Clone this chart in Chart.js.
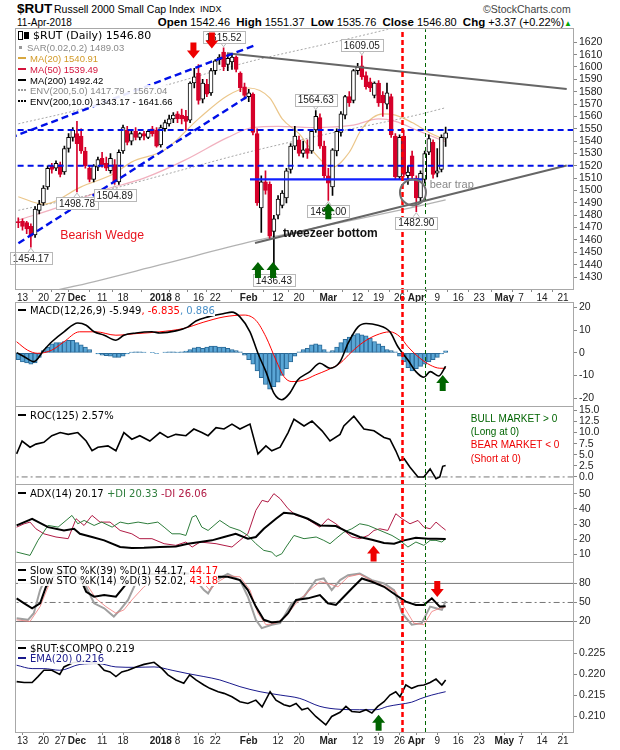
<!DOCTYPE html>
<html>
<head>
<meta charset="utf-8">
<script src="https://cdn.jsdelivr.net/npm/chart.js@4.4.1/dist/chart.umd.min.js"></script>
<style>
  body { margin: 0; background: #fff; }
  #wrap { position: relative; width: 620px; height: 750px; overflow: hidden; font-family: "Liberation Sans", Arial, sans-serif; color: #000; }
  canvas { position: absolute; left: 0; }
  .t { position: absolute; white-space: nowrap; line-height: 1; }
  .lg { position: absolute; left: 18px; white-space: nowrap; font-family: "DejaVu Sans", sans-serif; font-size: 10px; line-height: 11px; z-index: 5; }
  .lg span { background: rgba(255,255,255,0.9); }
  .sym { display: inline-block; width: 8px; height: 0; border-top: 2.5px solid #000; vertical-align: middle; margin: 0 4px 2px 0; }
  .ml { font-family: "Liberation Sans", Arial, sans-serif; font-size: 9.5px; }
</style>
</head>
<body>
<div id="wrap">
  <div class="t" style="left:17px;top:2px;font-size:13.5px;font-weight:bold">$RUT</div>
  <div class="t" style="left:54px;top:4px;font-size:10.5px">Russell 2000 Small Cap Index</div>
  <div class="t" style="left:200px;top:5px;font-size:9px">INDX</div>
  <div class="t" style="left:483px;top:4px;font-size:10.5px;color:#444">&copy;StockCharts.com</div>
  <div class="t" style="left:17px;top:18px;font-size:10px">11-Apr-2018</div>
  <div class="t" style="right:48px;top:17px;font-size:11px"><b style="font-size:11.5px">Open</b> 1542.46 &nbsp;<b style="font-size:11.5px">High</b> 1551.37 &nbsp;<b style="font-size:11.5px">Low</b> 1535.76 &nbsp;<b style="font-size:11.5px">Close</b> 1546.80 &nbsp;<b style="font-size:11.5px">Chg</b> +3.37 (+0.22%)<span style="color:#0a0;font-size:8px">&#9650;</span></div>

  <!-- main legend -->
  <div class="lg" style="top:30px;font-size:11px"><span><span style="display:inline-block;width:3px;height:7px;border:1px solid #000;margin-right:1px;vertical-align:-1px"></span><span style="display:inline-block;width:3px;height:5px;background:#000;border:1px solid #000;margin-right:4px;vertical-align:0"></span>$RUT (Daily) 1546.80</span></div>
  <div class="lg ml" style="top:42px;color:#8a8a8a"><span><span style="display:inline-block;width:3px;height:3px;background:#999;margin:0 5px 2px 1px;vertical-align:middle"></span>SAR(0.02,0.2) 1489.03</span></div>
  <div class="lg ml" style="top:53px;color:#d29a28"><span><span class="sym" style="border-color:#d8a840"></span>MA(20) 1540.91</span></div>
  <div class="lg ml" style="top:64px;color:#d4143c"><span><span class="sym" style="border-color:#d4143c"></span>MA(50) 1539.49</span></div>
  <div class="lg ml" style="top:75px"><span><span class="sym"></span>MA(200) 1492.42</span></div>
  <div class="lg ml" style="top:85px;color:#888"><span><span class="sym" style="border-top:2px dotted #999"></span>ENV(200,5.0) 1417.79 - 1567.04</span></div>
  <div class="lg ml" style="top:96px"><span><span class="sym" style="border-top:2px dotted #000"></span>ENV(200,10.0) 1343.17 - 1641.66</span></div>

  <!-- panel legends -->
  <div class="lg" style="top:305px"><span><span class="sym"></span>MACD(12,26,9) -5.949<span style="color:#f00">, -6.835</span><span style="color:#4a90c8">, 0.886</span></span></div>
  <div class="lg" style="top:410px"><span><span class="sym"></span>ROC(125) 2.57%</span></div>
  <div class="lg" style="top:488px"><span><span class="sym"></span>ADX(14) 20.17 <span style="color:#2e7d3c">+DI 20.33</span> <span style="color:#b01a44">-DI 26.06</span></span></div>
  <div class="lg" style="top:565px"><span><span class="sym"></span>Slow STO %K(39) %D(1) 44.17, <span style="color:#f00">44.17</span></span></div>
  <div class="lg" style="top:575px"><span><span class="sym"></span>Slow STO %K(14) %D(3) 52.02, <span style="color:#f00">43.18</span></span></div>
  <div class="lg" style="top:643px"><span><span class="sym"></span>$RUT:$COMPQ 0.219</span></div>
  <div class="lg" style="top:653px;color:#1a1a8c"><span><span class="sym" style="border-color:#1a1a8c"></span>EMA(20) 0.216</span></div>

  <canvas id="cMain"></canvas>
  <canvas id="cMacd"></canvas>
  <canvas id="cRoc"></canvas>
  <canvas id="cAdx"></canvas>
  <canvas id="cSto"></canvas>
  <canvas id="cRatio"></canvas>
</div>
<script>
// ---------- calendar ----------
const holidays = ['2017-11-23', '2017-12-25', '2018-01-01', '2018-01-15', '2018-02-19', '2018-03-30', '2018-05-28'];
function tradingDays(from, to) {
  const out = [];
  const d = new Date(from + 'T00:00:00Z'), end = new Date(to + 'T00:00:00Z');
  while (d <= end) {
    const s = d.toISOString().slice(0, 10), w = d.getUTCDay();
    if (w !== 0 && w !== 6 && !holidays.includes(s)) out.push(s);
    d.setUTCDate(d.getUTCDate() + 1);
  }
  return out;
}
const days = tradingDays('2017-11-10', '2018-05-24');

const tickDates = ['2017-11-13', '2017-11-20', '2017-11-27', '2017-12-01', '2017-12-11', '2017-12-18', '2018-01-02', '2018-01-08', '2018-01-16', '2018-01-22', '2018-02-01', '2018-02-12', '2018-02-20', '2018-03-01', '2018-03-12', '2018-03-19', '2018-03-26', '2018-04-02', '2018-04-09', '2018-04-16', '2018-04-23', '2018-05-01', '2018-05-07', '2018-05-14', '2018-05-21'];
const tickText = ['13', '20', '27', 'Dec', '11', '18', '2018', '8', '16', '22', 'Feb', '12', '20', 'Mar', '12', '19', '26', 'Apr', '9', '16', '23', 'May', '7', '14', '21'];

// ---------- daily OHLC, 10-Nov-2017 .. 11-Apr-2018 ----------
const open = [1474.5, 1475, 1474, 1471, 1464, 1484, 1490, 1503, 1520, 1518, 1521, 1515, 1534, 1543, 1546, 1544, 1532, 1518, 1509, 1519,
  1526, 1522, 1516, 1521, 1507, 1532, 1549, 1540, 1548, 1543, 1546, 1543, 1550, 1549, 1537, 1550, 1554, 1558, 1562, 1561,
  1560, 1557, 1587, 1595, 1574, 1586, 1579, 1597, 1606, 1612, 1602, 1604, 1608, 1595, 1584, 1576, 1578, 1546, 1486, 1507,
  1505, 1467, 1480, 1488, 1494, 1517, 1536, 1541, 1530, 1534, 1532, 1549, 1559, 1536, 1512, 1503, 1532, 1547, 1561, 1576,
  1573, 1597, 1601, 1593, 1588, 1577, 1587, 1577, 1570, 1576, 1544, 1511, 1544, 1512, 1528, 1510, 1494, 1509, 1531, 1539,
  1514, 1517, 1542.46];
const high = [1478, 1477, 1475, 1473, 1487, 1492, 1504, 1520, 1522, 1524, 1523, 1536, 1546, 1551, 1556, 1550, 1535, 1520, 1521, 1527,
  1531, 1527, 1530, 1525, 1533, 1553, 1552, 1549, 1551, 1547, 1548, 1549, 1552, 1551, 1553, 1557, 1561, 1563, 1564, 1566,
  1565, 1588, 1599, 1602, 1590, 1590, 1599, 1606, 1610, 1615.52, 1610, 1610, 1609, 1596, 1587, 1582, 1579, 1550, 1512, 1516,
  1507, 1480, 1496, 1500, 1518, 1538, 1552, 1544, 1540, 1541, 1549, 1564.63, 1562, 1540, 1518, 1534, 1550, 1564, 1577, 1580,
  1598, 1603, 1609.05, 1596, 1591, 1588, 1589, 1580, 1587, 1578, 1546, 1545, 1549, 1520, 1532, 1512, 1516, 1532, 1545, 1541,
  1534, 1545, 1551.37];
const low = [1470, 1468, 1465, 1454.17, 1462, 1481, 1488, 1501, 1514, 1516, 1511, 1513, 1531, 1540, 1498.78, 1530, 1518, 1507, 1507, 1516,
  1519, 1516, 1514, 1504.89, 1505, 1530, 1537, 1537, 1541, 1541, 1541, 1542, 1544, 1535, 1535, 1548, 1552, 1555, 1555, 1554,
  1549, 1555, 1583, 1570, 1571, 1576, 1577, 1594, 1602, 1597, 1597, 1598, 1596, 1580, 1574, 1572, 1545, 1488, 1466, 1497,
  1461, 1436.43, 1477, 1486, 1490, 1514, 1533, 1528, 1527, 1526, 1530, 1547, 1534, 1510, 1492, 1496, 1528, 1544, 1558, 1568,
  1571, 1594, 1590, 1582, 1580, 1575, 1568, 1560, 1566, 1543, 1509, 1509, 1511, 1505, 1509, 1482.9, 1490, 1506, 1529, 1510,
  1511, 1515, 1535.76];
const close = [1474, 1471, 1469, 1463, 1485, 1489, 1502, 1518, 1517, 1522, 1513, 1534, 1543, 1549, 1538, 1532, 1520, 1509, 1520, 1525,
  1521, 1518, 1526, 1507, 1531, 1551, 1539, 1546, 1543, 1546, 1544, 1548, 1546, 1536, 1551, 1555, 1558, 1561, 1558, 1558,
  1556, 1587, 1592, 1573, 1587, 1578, 1597, 1605, 1608, 1600, 1607, 1608, 1598, 1583, 1577, 1579, 1547, 1490, 1507, 1500,
  1463, 1477, 1493, 1498, 1516, 1536, 1544, 1530, 1533, 1530, 1548, 1560, 1536, 1512, 1506, 1533, 1548, 1562, 1576, 1571,
  1597, 1600, 1592, 1584, 1583, 1587, 1571, 1571, 1579, 1545, 1511, 1543, 1513, 1515, 1512, 1494, 1514, 1530, 1542, 1513,
  1516, 1543, 1546.8];

// ---------- overlays: [trading day, value] ----------
const ma20 = [[0, 1495], [6, 1489], [15, 1503], [23, 1514], [27, 1523], [35, 1533], [43, 1558], [50, 1577], [55, 1583], [60, 1575], [63, 1558],
  [67, 1546], [70, 1533], [75, 1519], [79, 1531], [82, 1550], [87, 1562], [90, 1561], [94, 1555], [98, 1547], [102, 1540.91]];
const ma50 = [[0, 1476], [10, 1487], [20, 1500], [30, 1510], [40, 1525], [50, 1543], [56, 1551], [62, 1552], [70, 1551], [80, 1553], [86, 1558],
  [90, 1556], [95, 1549], [102, 1539.49]];
const ma200 = [[0, 1413], [14, 1423], [34, 1440], [56, 1459], [74, 1472], [95, 1487], [102, 1492.42]];
const env5Upper = [[0, 1484], [14, 1494], [34, 1512], [56, 1532], [74, 1546], [95, 1561], [102, 1567.04]];
const env10Upper = [[0, 1554], [14, 1565], [34, 1584], [56, 1605], [74, 1619], [95, 1636], [102, 1641.66]];

// hand-drawn trend lines on the price panel
const wedgeUpper = [[-4.4, 1539.5], [56.5, 1617.6]];
const wedgeLower = [[-4.4, 1447.8], [55.3, 1577.4]];
const resistance = [[49.8, 1611.2], [130.9, 1582.2]];
const support = [[56.5, 1457.5], [130.9, 1520.2]];
const floor1509 = [[55.3, 1509], [96.4, 1509]];
const dashedLevels = [1549, 1520];

// ---------- indicators ----------
const macdLine = [[-0.4, 0.1], [1.4, -1.7], [3.7, -3.9], [6.1, 1.2], [8, 4.9], [10.9, 9.3], [14.2, 13.2], [16.2, 12.2], [18.1, 9.3], [20.5, 7.8],
  [23.3, 5.6], [25.2, 7.8], [28.1, 8.8], [31.9, 9.3], [33.8, 8.8], [37.6, 9.7], [40.5, 11.5], [42.4, 14.1], [45.3, 15.9], [49.1, 17.4], [51, 18],
  [52.9, 15.9], [55.3, 9.3], [57.2, -0.2], [59.1, -8.3], [61, -17.8], [62.9, -20.7], [64.8, -17.8], [66.7, -12], [69.6, -8.3], [72, -4.6],
  [74.4, -6.8], [76.8, -3.9], [78.7, 4.2], [81.1, 11.5], [83, 13], [85.8, 12.2], [88.7, 9.3], [90.6, 2.7], [93, -3.2], [94.9, -8.3],
  [96.8, -10.8], [98.3, -8.3], [100.4, -10.2], [102, -5.949]];
const macdSignal = [[-0.4, 4.9], [2.2, 1.2], [4.6, -0.2], [8, 1.2], [10.9, 4.9], [14.6, 9.3], [18.5, 9.3], [23.3, 7.8], [28.1, 8.5], [33.8, 9.3],
  [39.5, 10.8], [44.3, 13.6], [49.1, 15.9], [53.9, 16.7], [56.7, 14.4], [59.1, 7.1], [61.5, -3.2], [63.4, -10.5], [65.3, -12.7], [68.2, -12],
  [71, -9.7], [73.9, -7.5], [76.8, -4.6], [79.6, 0.5], [82.5, 4.9], [85.4, 7.8], [88.7, 9.3], [91.1, 7.1], [93, 2.7], [95.9, -2.4],
  [98.3, -5.4], [100.6, -6.8], [102, -6.835]];
const macdHist = [-3, -4, -4.5, -5, -4.5, -2, 1, 2.5, 4, 4.5, 4.5, 5, 5.5, 5.5, 4.5, 3.5, 2.5, 1.5, 0, -0.5,
  -1, -1.2, -1.5, -2, -2, -1.5, -0.5, 0.3, 0.5, 0.5, 0.3, 0, 0.2, -0.3, 0, 0.3, 0.5, 0.5, 0.3, 0.5,
  0.8, 1.5, 2.2, 2.5, 2, 2.5, 3, 3, 2.5, 2.5, 2, 1.5, 1, 0.5, -1, -3, -5, -8, -11, -14,
  -16, -15, -13, -10, -7, -4, -1.5, 0.5, 1.5, 2, 3.5, 4, 3.5, 1.5, 0.5, 1, 2.5, 4.5, 6, 7,
  8, 8.5, 8, 7.5, 6.5, 5, 4, 3, 1.5, 1, 0.5, -1.5, -4, -6.5, -8, -7, -6, -5, -4, -3,
  -2, -0.5, 0.886];

const roc125 = [[-0.4, 5.2], [0.9, 8.1], [2.8, 6.7], [4.2, 7.4], [6.1, 7.8], [8, 9.3], [10, 10], [11.9, 9.6], [14.2, 10], [16.2, 8.1],
  [17.6, 5.9], [19, 6.7], [21.4, 7], [23.3, 5.9], [25.2, 10], [27.1, 8.5], [29, 9.3], [31.4, 8.1], [33.8, 10], [35.7, 8.9], [37.6, 9.6],
  [40, 9.3], [41.9, 10.8], [43.8, 10], [45.3, 9.3], [47.2, 11.1], [49.1, 10.8], [51, 11.9], [52.9, 10.8], [55.3, 11.9], [57.2, 5.2],
  [59.1, 7], [60.5, 5.9], [62.5, 6.7], [64.4, 10], [65.8, 13], [68.2, 11.5], [70.1, 12.6], [72.5, 10.4], [74.4, 8.1], [76.8, 9.6],
  [77.7, 11.5], [80.1, 13.7], [82.5, 10.8], [84.9, 10.4], [87.3, 8.9], [88.7, 8.5], [90.1, 5.9], [91.1, 3.7], [92.1, 4.1], [93.5, 2.2],
  [95.4, 0], [96.8, 0], [98.3, 1.8], [99.7, -0.4], [100.6, 0], [101.3, 2.4], [102, 2.57]];

const adx14 = [[-0.4, 29.1], [3.3, 33.5], [7.1, 28], [10.9, 25.8], [13.3, 26.9], [14.7, 23.6], [17.6, 21.5], [20.5, 19.3], [24.3, 14.9],
  [27.1, 14.2], [30, 14.4], [33.8, 14.9], [37.6, 15.3], [40.5, 17.1], [43.4, 18.2], [46.2, 19.3], [49.1, 21.5], [51.9, 23.6], [54.8, 20.4],
  [56.7, 21.5], [58.6, 26.9], [61.5, 33.5], [63.4, 37.5], [65.8, 36.8], [69.1, 33.5], [72, 29.1], [75.8, 28.7], [78.7, 24.7], [81.5, 21.5],
  [84.4, 19.7], [87.3, 17.5], [89.7, 17.1], [92.1, 19.3], [94.9, 21], [97.8, 20.4], [99.7, 20.4], [102, 20.17]];
const plusDI = [[-0.4, 11.6], [2.8, 9.4], [4.7, 19.3], [7.1, 29.1], [9.5, 28], [11.4, 32.4], [12.8, 35.7], [14.2, 30.2], [15.7, 32.4],
  [18.1, 29.1], [19.9, 31.3], [22.4, 28], [24.3, 31.3], [26.2, 30.2], [28.6, 31.3], [30.9, 30.2], [33.3, 31.3], [34.8, 28], [36.7, 23.6],
  [38.6, 23.6], [40, 22.5], [41.5, 34.6], [42.4, 35.7], [43.8, 28], [45.3, 25.8], [48.1, 32.4], [50.5, 28], [52.9, 25.8], [54.8, 22.5],
  [56.7, 17.1], [58.6, 12.7], [60.5, 11.6], [61.5, 8.7], [62.9, 10.5], [63.9, 14.9], [65.8, 22.5], [68.2, 20.4], [71.1, 21.5], [72.9, 19.3],
  [74.4, 17.1], [75.8, 20.4], [77.7, 24.7], [79.6, 26.9], [81.5, 30.2], [83.5, 29.1], [85.4, 26.9], [87.3, 24.7], [89.2, 22.5], [91.1, 19.3],
  [93, 14.9], [94.9, 18.2], [96.8, 16], [98.3, 19.3], [99.7, 19.3], [101.1, 18.2], [102, 20.33]];
const minusDI = [[-0.4, 28], [1.4, 30.2], [2.8, 31.3], [4.2, 26.9], [6.1, 23.6], [9, 21.5], [11.9, 20.4], [13.8, 33.5], [15.7, 29.1],
  [17.6, 35.7], [19.5, 31.3], [21.9, 31.3], [24.3, 25.8], [27.1, 23.6], [29, 20.4], [31.9, 20.4], [34.8, 17.1], [37.6, 16], [40, 18.2],
  [41.5, 14.9], [43.4, 18.2], [47.2, 17.1], [51, 14.9], [52.9, 19.3], [54.8, 23.6], [56.7, 39], [58.2, 45.6], [59.6, 44.5], [61, 50],
  [62.5, 46.7], [64.4, 40.1], [66.3, 35.7], [68.2, 34.6], [70.1, 31.3], [72, 28], [73.9, 33.5], [75.8, 30.2], [77.7, 25.8], [79.6, 21.5],
  [81.5, 20.4], [83.5, 22.5], [84.9, 25.8], [86.3, 26.9], [88.2, 25.8], [90.1, 36.8], [91.6, 33.5], [93.5, 30.2], [95.4, 32.4], [96.8, 28],
  [98.3, 26.9], [99.7, 31.3], [101.1, 28], [102, 26.06]];

const stoK39 = [[-0.4, 56.5], [1.4, 48.7], [3.3, 40.9], [5.2, 48.7], [6.6, 74.7], [8.5, 92], [11, 97], [13.5, 95], [15, 85], [16.2, 66.9],
  [18.1, 59.1], [20.5, 61.7], [23.3, 59.1], [25.2, 74.7], [27, 90], [30, 96], [34, 94], [38, 97], [42, 95], [44.3, 87.8], [45.3, 80],
  [47.2, 90.4], [50, 90.4], [52.9, 85.2], [54.8, 69.5], [56.7, 43.5], [58.6, 22.7], [60.5, 18.5], [62.5, 20.1], [64.4, 33.1], [66.3, 53.9],
  [69.1, 56.5], [72, 61.7], [73.9, 48.7], [75.8, 46.1], [77.7, 59.1], [79.6, 72.1], [82, 87.8], [84.4, 82.6], [87.3, 74.7], [90.1, 61.7],
  [92.5, 51.3], [94.9, 46.1], [96.8, 46.1], [98.7, 56.5], [100.6, 43.5], [102, 44.17]];
const stoK14 = [[-0.4, 25.3], [2.3, 22.7], [3.7, 33.1], [5.2, 69.5], [6.6, 90], [9, 98], [12, 96], [14.5, 92], [16.2, 74.7], [18.1, 48.7],
  [20.5, 40.9], [22.8, 27.9], [24.3, 38.3], [26.2, 53.9], [28, 80], [31, 95], [35, 90], [39, 96], [42, 88], [44.3, 69.5], [45.3, 64.3],
  [47.2, 85.2], [50, 95], [52.9, 85.2], [54.8, 59.1], [56.7, 22.7], [58.1, 9.6], [60.5, 14.9], [62.5, 17.5], [65.3, 48.7], [68.2, 59.1],
  [71, 85.2], [72.9, 87.8], [74.8, 69.5], [76.8, 85.2], [78.7, 93], [81.5, 95.6], [84.4, 85.2], [87.3, 80], [89.7, 69.5], [91.6, 33.1],
  [93.9, 14.9], [96.3, 17.5], [98.3, 43.5], [99.7, 40.9], [101.1, 38.3], [102, 52.02]];
const stoD3 = [[-0.4, 22.7], [2.8, 20.1], [5.2, 43.5], [7.1, 74.7], [10, 93], [13, 96], [16.2, 80], [18.5, 56.5], [20.9, 43.5], [23.3, 33.1],
  [25.2, 38.3], [27.1, 53.9], [30, 74.7], [33, 90], [38, 94], [42, 90], [44.3, 80], [45.7, 69.5], [47.7, 82.6], [50, 92], [52.9, 90.4],
  [55.3, 69.5], [57.2, 33.1], [59.1, 14.9], [61.5, 17.5], [63.9, 27.9], [66.3, 48.7], [69.6, 69.5], [72, 82.6], [73.9, 80], [76.3, 74.7],
  [78.7, 90.4], [81.5, 94.5], [84.9, 82.6], [87.7, 74.7], [90.1, 66.9], [92, 43.5], [94.4, 17.5], [96.8, 14.9], [98.7, 35.7], [100.6, 40.9],
  [102, 43.18]];
const stoLevels = [80, 50, 20];

const rutCompq = [[-0.4, 0.2183], [1.4, 0.2181], [3.3, 0.2181], [4.7, 0.2195], [6.1, 0.221], [8, 0.221], [9.9, 0.22], [10.9, 0.2218],
  [13, 0.2228], [16, 0.2232], [19, 0.2226], [20.5, 0.221], [21.9, 0.2206], [23.3, 0.2195], [24.7, 0.2206], [26.2, 0.221], [28.1, 0.2218],
  [30, 0.2224], [32.4, 0.2229], [34.3, 0.2214], [35.7, 0.2199], [37.6, 0.2187], [39.5, 0.2179], [40.9, 0.2199], [42.4, 0.2187],
  [44.3, 0.2175], [45.7, 0.2167], [47.7, 0.2159], [49.1, 0.2155], [51, 0.2147], [52.9, 0.2135], [54.8, 0.2131], [56.7, 0.2139],
  [58.2, 0.2123], [60.1, 0.2159], [61.5, 0.2139], [63.4, 0.2128], [64.8, 0.2124], [66.3, 0.2131], [67.7, 0.2116], [69.1, 0.212],
  [71, 0.21], [73.4, 0.208], [74.8, 0.21], [76.8, 0.211], [78.2, 0.2124], [79.6, 0.2112], [81.5, 0.211], [83, 0.2116], [84.4, 0.2108],
  [85.8, 0.2124], [87.3, 0.2135], [88.7, 0.2151], [90.1, 0.2159], [91.1, 0.2147], [92.5, 0.2175], [93.9, 0.2167], [95.4, 0.2173],
  [96.8, 0.2175], [98.3, 0.2181], [99.7, 0.2189], [101.1, 0.2175], [102, 0.2187]];
const ratioEma20 = [[-0.4, 0.2222], [3.3, 0.2214], [6.1, 0.2214], [9.9, 0.221], [14.7, 0.2224], [19, 0.2226], [23.3, 0.2218], [28.1, 0.2217],
  [32.4, 0.2218], [36.7, 0.221], [40.5, 0.2202], [44.3, 0.2195], [48.1, 0.2187], [52.9, 0.2171], [57.7, 0.2159], [62.5, 0.2151],
  [67.2, 0.2143], [72, 0.2124], [76.8, 0.2117], [81.5, 0.2116], [85.4, 0.2116], [88.2, 0.2124], [91.1, 0.2129], [93.9, 0.2134],
  [95.9, 0.2142], [98.7, 0.2151], [102, 0.2159]];

// ---------- layout ----------
const X_MIN = -0.55, X_MAX = 132.4;
const UP = '#000', DOWN = '#d6002a';
const tickIdx = tickDates.map(d => days.indexOf(d));
const boldTicks = new Set(tickIdx.filter((v, i) => /[A-Za-z]|2018/.test(tickText[i])));
const eventLines = [
  { day: 91.5, color: '#ff0000', width: 2.5, dash: [5, 3] },
  { day: 97, color: '#006400', width: 1, dash: [4, 3] }
];
const GREEN = '#006400', RED = '#ee0000';

const pts = arr => arr.map(([x, y]) => ({ x, y }));
function line(data, color, width, extra) {
  return Object.assign({ type: 'line', data: pts(data), borderColor: color, borderWidth: width, pointRadius: 0,
    fill: false, tension: 0, order: 3 }, extra || {});
}
const smooth = { cubicInterpolationMode: 'monotone' };
const across = v => [[X_MIN - 2, v], [X_MAX + 2, v]];

const framePlugin = {
  id: 'frame',
  afterDraw(chart) {
    const { ctx, chartArea: a } = chart;
    ctx.save();
    ctx.strokeStyle = '#a8a8a8';
    ctx.lineWidth = 1;
    ctx.strokeRect(Math.round(a.left) - 0.5, Math.round(a.top) - 0.5, Math.round(a.right - a.left) + 1, Math.round(a.bottom - a.top) + 1);
    ctx.restore();
  }
};

function blockArrow(ctx, x, y, dir, color) {
  const w = 13, h = 16, head = 8, stem = 6;
  ctx.fillStyle = color;
  ctx.beginPath();
  ctx.moveTo(x, y);
  ctx.lineTo(x + w / 2, y + dir * head);
  ctx.lineTo(x + stem / 2, y + dir * head);
  ctx.lineTo(x + stem / 2, y + dir * h);
  ctx.lineTo(x - stem / 2, y + dir * h);
  ctx.lineTo(x - stem / 2, y + dir * head);
  ctx.lineTo(x - w / 2, y + dir * head);
  ctx.closePath();
  ctx.fill();
}

function marksPlugin(spec) {
  return {
    id: 'marks',
    afterDatasetsDraw(chart) {
      const { ctx, chartArea: a, scales: { x, y } } = chart;
      ctx.save();
      // event lines run through every panel
      const y0 = spec.vFrom === 'area' ? a.top : 0;
      const y1 = spec.vTo === 'area' ? a.bottom : chart.height;
      eventLines.forEach(l => {
        const px = Math.round(x.getPixelForValue(l.day)) + 0.5;
        ctx.strokeStyle = l.color;
        ctx.lineWidth = l.width;
        ctx.setLineDash(l.dash);
        ctx.lineDashOffset = y0 + spec.top;
        ctx.beginPath();
        ctx.moveTo(px, y0);
        ctx.lineTo(px, y1);
        ctx.stroke();
      });
      ctx.setLineDash([]);
      (spec.circles || []).forEach(c => {
        ctx.strokeStyle = '#707070';
        ctx.lineWidth = 2;
        ctx.beginPath();
        ctx.arc(x.getPixelForValue(c.day), y.getPixelForValue(c.value), c.r, 0, Math.PI * 2);
        ctx.stroke();
      });
      (spec.labels || []).forEach(l => {
        ctx.font = '10px "Liberation Sans", Arial';
        const tw = ctx.measureText(l.text).width;
        const px = x.getPixelForValue(l.day), py = y.getPixelForValue(l.value);
        const w = tw + 6, h = 12;
        const above = l.pos === 'above';
        const cy = above ? py - 11 : py + 11;
        const edge = above ? cy + h / 2 : cy - h / 2;
        ctx.strokeStyle = '#b8b8b8';
        ctx.lineWidth = 1;
        ctx.beginPath();
        ctx.moveTo(px - 3, edge);
        ctx.lineTo(px, above ? py - 1 : py + 1);
        ctx.lineTo(px + 3, edge);
        ctx.stroke();
        ctx.fillStyle = '#fff';
        ctx.fillRect(Math.round(px - w / 2) + 0.5, Math.round(cy - h / 2) + 0.5, Math.round(w), h);
        ctx.strokeRect(Math.round(px - w / 2) + 0.5, Math.round(cy - h / 2) + 0.5, Math.round(w), h);
        ctx.fillStyle = '#222';
        ctx.textAlign = 'center';
        ctx.textBaseline = 'middle';
        ctx.fillText(l.text, px, cy + 1);
      });
      (spec.texts || []).forEach(t => {
        ctx.font = t.font;
        ctx.fillStyle = t.color;
        ctx.textAlign = 'left';
        ctx.textBaseline = 'middle';
        ctx.fillText(t.text, x.getPixelForValue(t.day), y.getPixelForValue(t.value));
      });
      (spec.arrows || []).forEach(r => {
        blockArrow(ctx, x.getPixelForValue(r.day), y.getPixelForValue(r.value), r.dir === 'up' ? 1 : -1, r.color);
      });
      ctx.restore();
    }
  };
}

function makePanel(id, p, datasets) {
  const hasX = !!p.xAxis;
  const canvas = document.getElementById(id);
  const h = 8 + (p.bottom - p.top) + (hasX ? 16 : 8);
  canvas.width = 620;
  canvas.height = h;
  canvas.style.top = (p.top - 8) + 'px';
  p.marks.top = p.top - 8;
  new Chart(canvas, {
    type: 'line',
    data: { datasets },
    options: {
      responsive: false, animation: false, events: [],
      layout: { padding: { left: 16, right: 0, top: 8, bottom: hasX ? 2 : 8 } },
      plugins: { legend: { display: false }, tooltip: { enabled: false } },
      scales: {
        x: {
          type: 'linear', min: X_MIN, max: X_MAX, offset: false, display: hasX,
          grid: { display: true, drawOnChartArea: false, drawTicks: true, tickLength: 3, color: '#888' },
          border: { display: false },
          afterBuildTicks: s => { s.ticks = tickIdx.map(v => ({ value: v })); },
          afterFit: s => { if (hasX) s.height = 14; },
          ticks: {
            autoSkip: false, maxRotation: 0, padding: 0, color: '#222',
            font: c => ({ size: 10, family: '"Liberation Sans", Arial', weight: (c.tick && boldTicks.has(c.tick.value)) ? 'bold' : 'normal' }),
            callback: v => tickText[tickIdx.indexOf(v)]
          }
        },
        y: {
          type: 'linear', position: 'right', min: p.min, max: p.max,
          grid: { display: true, drawOnChartArea: false, drawTicks: true, tickLength: 4, color: '#888' },
          border: { display: false },
          afterBuildTicks: s => { s.ticks = p.ticks.map(v => ({ value: v })); },
          afterFit: s => { s.width = 47; },
          ticks: { autoSkip: false, padding: 2, color: '#222', font: { size: 10.5, family: '"Liberation Sans", Arial' }, callback: p.fmt }
        }
      }
    },
    plugins: [framePlugin, marksPlugin(p.marks)]
  });
}

// ---------- price panel ----------
const candleIdx = close.map((c, i) => i);
const isUp = i => close[i] >= open[i];
const priceTicks = [];
for (let v = 1430; v <= 1620; v += 10) priceTicks.push(v);

makePanel('cMain', {
  top: 29, bottom: 289, min: 1420.3, max: 1630.5, ticks: priceTicks, fmt: v => v, xAxis: true,
  marks: {
    vFrom: 'area', vTo: 'canvas',
    circles: [{ day: 94.2, value: 1498.5, r: 13 }],
    labels: [
      { day: 49, value: 1615.52, text: '1615.52', pos: 'above' },
      { day: 82, value: 1609.05, text: '1609.05', pos: 'above' },
      { day: 71, value: 1564.63, text: '1564.63', pos: 'above' },
      { day: 14, value: 1498.78, text: '1498.78', pos: 'below' },
      { day: 23, value: 1504.89, text: '1504.89', pos: 'below' },
      { day: 3, value: 1454.17, text: '1454.17', pos: 'below' },
      { day: 61, value: 1436.43, text: '1436.43', pos: 'below' },
      { day: 74, value: 1492.00, text: '1492.00', pos: 'below' },
      { day: 95, value: 1482.90, text: '1482.90', pos: 'below' }
    ],
    texts: [
      { day: 10, value: 1463.4, text: 'Bearish Wedge', color: '#e8141e', font: '12.3px "Liberation Sans", Arial' },
      { day: 63.2, value: 1464.7, text: 'tweezeer bottom', color: '#111', font: 'bold 12px "Liberation Sans", Arial' },
      { day: 98.2, value: 1504.4, text: 'bear trap', color: '#888', font: '11px "Liberation Sans", Arial' }
    ],
    arrows: [
      { day: 41.8, value: 1606.8, dir: 'down', color: RED },
      { day: 46.2, value: 1614.9, dir: 'down', color: RED },
      { day: 57.2, value: 1442.1, dir: 'up', color: GREEN },
      { day: 60.8, value: 1442.1, dir: 'up', color: GREEN },
      { day: 74, value: 1489.8, dir: 'up', color: GREEN }
    ]
  }
}, [
  line(wedgeUpper, '#0010e8', 2.4, { borderDash: [7, 4], order: 0 }),
  line(wedgeLower, '#0010e8', 2.4, { borderDash: [7, 4], order: 0 }),
  line(across(dashedLevels[0]), '#0010e8', 2, { borderDash: [6, 4], order: 0 }),
  line(across(dashedLevels[1]), '#0010e8', 2, { borderDash: [6, 4], order: 0 }),
  line(floor1509, '#1020ff', 2.2, { order: 0 }),
  line(resistance, '#666', 2, { order: 0 }),
  line(support, '#666', 2, { order: 0 }),
  {
    type: 'bar', order: 1, grouped: false, barThickness: 4, borderWidth: 1, borderSkipped: false, minBarLength: 1,
    data: candleIdx.map(i => ({ x: i, y: [open[i], close[i]] })),
    backgroundColor: c => isUp(c.dataIndex) ? '#fff' : DOWN,
    borderColor: c => isUp(c.dataIndex) ? UP : DOWN
  },
  {
    type: 'bar', order: 2, grouped: false, barThickness: 1, borderWidth: 0,
    data: candleIdx.map(i => ({ x: i, y: [low[i], high[i]] })),
    backgroundColor: c => isUp(c.dataIndex) ? UP : DOWN
  },
  line(ma20, 'rgba(222,160,60,0.6)', 1.2, Object.assign({ order: 5 }, smooth)),
  line(ma50, 'rgba(214,30,70,0.35)', 1.2, Object.assign({ order: 5 }, smooth)),
  line(ma200, 'rgba(0,0,0,0.3)', 1.3, Object.assign({ order: 5 }, smooth)),
  line(env5Upper, 'rgba(110,110,110,0.6)', 1, Object.assign({ order: 5, borderDash: [2, 2] }, smooth)),
  line(env10Upper, 'rgba(110,110,110,0.6)', 1, Object.assign({ order: 5, borderDash: [2, 2] }, smooth))
]);

// ---------- MACD ----------
makePanel('cMacd', {
  top: 303, bottom: 407, min: -23.8, max: 21.9, ticks: [-20, -10, 0, 10, 20], fmt: v => v,
  marks: { vFrom: 'canvas', vTo: 'canvas', arrows: [{ day: 101.3, value: -9.8, dir: 'up', color: GREEN }] }
}, [
  line(macdLine, '#000', 1.6, Object.assign({ order: 1 }, smooth)),
  line(macdSignal, '#ff0000', 1, Object.assign({ order: 2 }, smooth)),
  {
    type: 'bar', order: 4, grouped: false, barThickness: 4.2, borderWidth: 1, borderSkipped: false,
    data: macdHist.map((v, i) => ({ x: i, y: v })),
    backgroundColor: '#5aa6d6', borderColor: '#2a6a98'
  }
]);

// ---------- ROC ----------
makePanel('cRoc', {
  top: 407, bottom: 485, min: -1.75, max: 15.7, ticks: [0, 2.5, 5, 7.5, 10, 12.5, 15], fmt: v => v.toFixed(1),
  marks: {
    vFrom: 'canvas', vTo: 'canvas',
    texts: [
      { day: 108, value: 12.93, text: 'BULL MARKET > 0', color: '#006400', font: '10px "Liberation Sans", Arial' },
      { day: 108, value: 10.16, text: '(Long at 0)', color: '#006400', font: '10px "Liberation Sans", Arial' },
      { day: 108, value: 7.07, text: 'BEAR MARKET < 0', color: '#ee0000', font: '10px "Liberation Sans", Arial' },
      { day: 108, value: 4.08, text: '(Short at 0)', color: '#ee0000', font: '10px "Liberation Sans", Arial' }
    ]
  }
}, [
  line(across(0), '#777', 1, { borderDash: [6, 3, 2, 3], order: 5 }),
  line(roc125, '#000', 1.6, { order: 1 })
]);

// ---------- ADX ----------
makePanel('cAdx', {
  top: 485, bottom: 563, min: 4.6, max: 55.5, ticks: [10, 20, 30, 40, 50], fmt: v => v,
  marks: { vFrom: 'canvas', vTo: 'canvas', arrows: [{ day: 84.8, value: 15.9, dir: 'up', color: RED }] }
}, [
  line(adx14, '#000', 2, { order: 1 }),
  line(plusDI, '#2e7d3c', 1, { order: 2 }),
  line(minusDI, '#b01a44', 1, { order: 3 })
]);

// ---------- Slow stochastics ----------
makePanel('cSto', {
  top: 563, bottom: 641, min: -10.2, max: 111.7, ticks: stoLevels, fmt: v => v,
  marks: { vFrom: 'canvas', vTo: 'canvas', arrows: [{ day: 100, value: 58.6, dir: 'down', color: RED }] }
}, [
  line(across(stoLevels[0]), '#777', 1, { order: 6 }),
  line(across(stoLevels[1]), '#777', 1, { borderDash: [6, 3, 2, 3], order: 6 }),
  line(across(stoLevels[2]), '#777', 1, { order: 6 }),
  line(stoK39, '#000', 2, { order: 1 }),
  line(stoK14, '#a0a0a0', 2, { order: 3 }),
  line(stoD3, 'rgba(240,120,120,0.8)', 1, { order: 2 })
]);

// ---------- $RUT:$COMPQ ----------
makePanel('cRatio', {
  top: 641, bottom: 732, min: 0.2063, max: 0.2279, ticks: [0.21, 0.215, 0.22, 0.225], fmt: v => v.toFixed(3), xAxis: true,
  marks: { vFrom: 'canvas', vTo: 'area', arrows: [{ day: 86, value: 0.2104, dir: 'up', color: GREEN }] }
}, [
  line(ratioEma20, '#1a1a8c', 1, Object.assign({ order: 2 }, smooth)),
  line(rutCompq, '#000', 1.6, { order: 1 })
]);
</script>
</body>
</html>
